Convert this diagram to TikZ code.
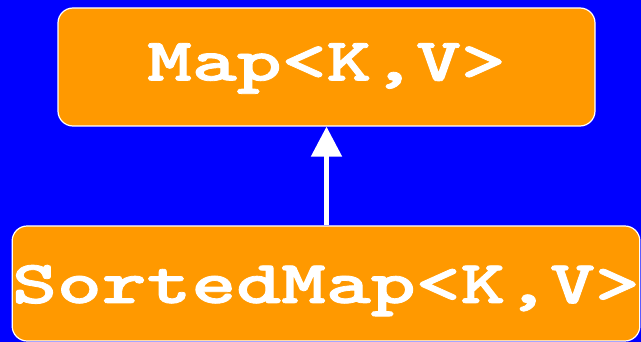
\documentclass[tikz,border=0pt]{standalone}
\usepackage{graphicx}
\usepackage{fontspec}
\newfontfamily\clsfont{lmmonolt10-bold.otf}[FakeBold=1.3]
\usetikzlibrary{arrows.meta}
\definecolor{bg}{RGB}{0,0,255}
\definecolor{boxor}{RGB}{255,153,0}
\newcommand{\wide}[1]{\scalebox{1.40}[1]{#1}}
\begin{document}
\begin{tikzpicture}[x=1pt,y=-1pt,
  cls/.style={draw=white, line width=1.2pt, fill=boxor, rounded corners=15pt, text=white,
    font=\clsfont\fontsize{61}{61}\selectfont, inner sep=0pt}]
\fill[bg] (0,0) rectangle (641,342);
\useasboundingbox (0,0) rectangle (641,342);
\node[cls, minimum width=537pt, minimum height=118pt, text height=36pt, text depth=9pt] (map) at (326.5,67) {\wide{Map<K,V>}};
\node[cls, minimum width=626pt, minimum height=115pt, text height=39pt, text depth=0pt] (sorted) at (326,283.5) {\wide{SortedMap<K,V>}};
\draw[white, line width=5pt, -{Triangle[length=30pt,width=30pt]}] (sorted.north -| map.south) -- (map.south);
\end{tikzpicture}
\end{document}
